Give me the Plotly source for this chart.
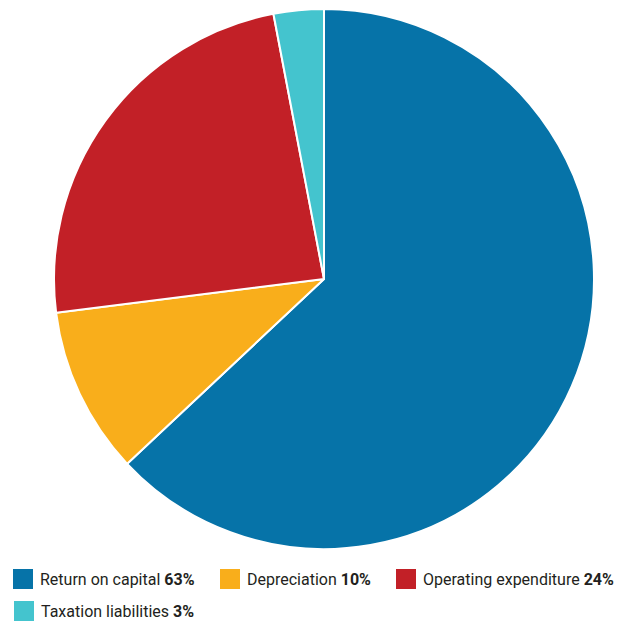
import plotly.graph_objects as go

labels = ["Return on capital", "Depreciation", "Operating expenditure", "Taxation liabilities"]
values = [63, 10, 24, 3]
colors = ["#0673A8", "#F9AE1B", "#C22027", "#44C4CE"]

W, H = 619, 624

fig = go.Figure(go.Pie(
    labels=labels, values=values, sort=False, direction="clockwise", rotation=0,
    marker=dict(colors=colors, line=dict(color="white", width=2)),
    textinfo="none", hoverinfo="label+percent", showlegend=False,
    domain=dict(x=[54 / W, 594 / W], y=[75 / H, 615 / H]),
))

# custom legend layout (pixel positions of legend items)
legend_pos = [(13, 579), (220, 579), (396, 579), (14, 611)]
shapes = []
annotations = []
for (lx, ly), lab, val, col in zip(legend_pos, labels, values, colors):
    shapes.append(dict(type="rect", xref="paper", yref="paper",
                       x0=lx / W, x1=(lx + 20) / W, y0=1 - (ly + 10) / H, y1=1 - (ly - 10) / H,
                       fillcolor=col, line=dict(width=0)))
    annotations.append(dict(xref="paper", yref="paper", x=(lx + 25) / W, y=1 - ly / H,
                            xanchor="left", yanchor="middle", showarrow=False,
                            text=f"{lab} <b>{val}%</b>",
                            font=dict(family="Roboto", size=16, color="#231F20")))

fig.update_layout(width=W, height=H, margin=dict(l=0, r=0, t=0, b=0),
                  paper_bgcolor="white", plot_bgcolor="white",
                  shapes=shapes, annotations=annotations)
fig.write_html("out.html")
